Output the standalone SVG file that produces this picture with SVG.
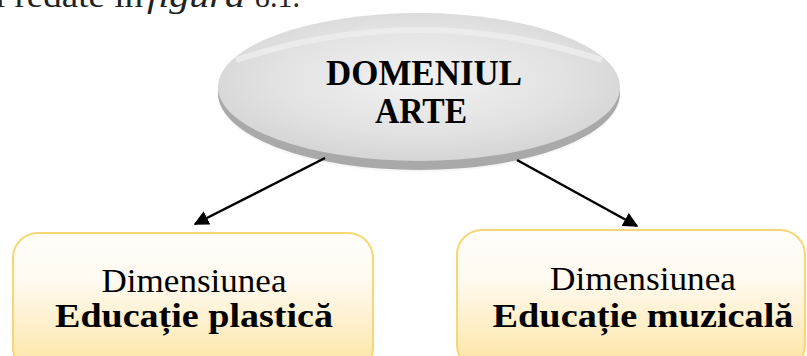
<svg xmlns="http://www.w3.org/2000/svg" width="807" height="356" viewBox="0 0 807 356">
<defs>
<radialGradient id="face" cx="0.5" cy="0.45" r="0.6">
<stop offset="0" stop-color="#f2f2f2"/>
<stop offset="0.6" stop-color="#e2e2e2"/>
<stop offset="1" stop-color="#d2d2d2"/>
</radialGradient>
<linearGradient id="box" x1="0" y1="0" x2="0" y2="1">
<stop offset="0" stop-color="#fffefb"/>
<stop offset="0.35" stop-color="#fffaf0"/>
<stop offset="1" stop-color="#fde4a0"/>
</linearGradient>
<marker id="ah" viewBox="0 0 10 10" refX="9" refY="5" markerWidth="6" markerHeight="6" markerUnits="strokeWidth" orient="auto">
<path d="M0,0 L10,5 L0,10 z" fill="#000"/>
</marker>
</defs>
<style>
.top{font-family:"Liberation Serif","DejaVu Serif",serif;font-size:32px;fill:#222}
.t{font-family:"Liberation Serif","Times New Roman",serif;fill:#000}
.b{font-weight:bold}
.rim{fill:none;stroke:#f7d674;stroke-width:2}
.conn line{stroke:#000;stroke-width:2.5}
</style>
<text class="top" x="-5" y="7" textLength="148" lengthAdjust="spacingAndGlyphs">i redate în</text>
<text class="top" x="147" y="7" font-style="italic" textLength="98" lengthAdjust="spacingAndGlyphs">figura</text>
<text class="top" x="255" y="7" textLength="45" lengthAdjust="spacingAndGlyphs">8.1.</text>

<g id="node-domeniul">
<ellipse cx="419" cy="95" rx="201" ry="77" fill="#f0f0f0" opacity="0.6"/>
<ellipse cx="419" cy="93" rx="201" ry="77" fill="#a9a9a9"/>
<ellipse cx="419" cy="87" rx="201" ry="74" fill="url(#face)"/>
<path d="M236,60 Q419,0 602,60" fill="none" stroke="#eeeeee" stroke-width="6" opacity="0.8"/>
<text class="t b" x="424" y="85" font-size="35" text-anchor="middle" textLength="196" lengthAdjust="spacingAndGlyphs">DOMENIUL</text>
<text class="t b" x="421" y="123" font-size="35" text-anchor="middle" textLength="92" lengthAdjust="spacingAndGlyphs">ARTE</text>
</g>

<g class="conn" id="connectors">
<line x1="325" y1="158" x2="195" y2="224" marker-end="url(#ah)"/>
<line x1="517" y1="160" x2="637" y2="226" marker-end="url(#ah)"/>
</g>

<g id="node-plastica">
<rect x="13" y="233" width="360" height="140" rx="25" fill="url(#box)"/>
<rect x="13" y="233" width="360" height="140" rx="25" class="rim"/>
<text class="t" x="194" y="292" font-size="34" text-anchor="middle" textLength="185" lengthAdjust="spacingAndGlyphs">Dimensiunea</text>
<text class="t b" x="194" y="327" font-size="34" text-anchor="middle" textLength="278" lengthAdjust="spacingAndGlyphs">Educație plastică</text>
</g>

<g id="node-muzicala">
<rect x="457" y="230" width="348" height="140" rx="25" fill="url(#box)"/>
<rect x="457" y="230" width="348" height="140" rx="25" class="rim"/>
<text class="t" x="643" y="290" font-size="34" text-anchor="middle" textLength="186" lengthAdjust="spacingAndGlyphs">Dimensiunea</text>
<text class="t b" x="643" y="327" font-size="34" text-anchor="middle" textLength="301" lengthAdjust="spacingAndGlyphs">Educație muzicală</text>
</g>
</svg>
